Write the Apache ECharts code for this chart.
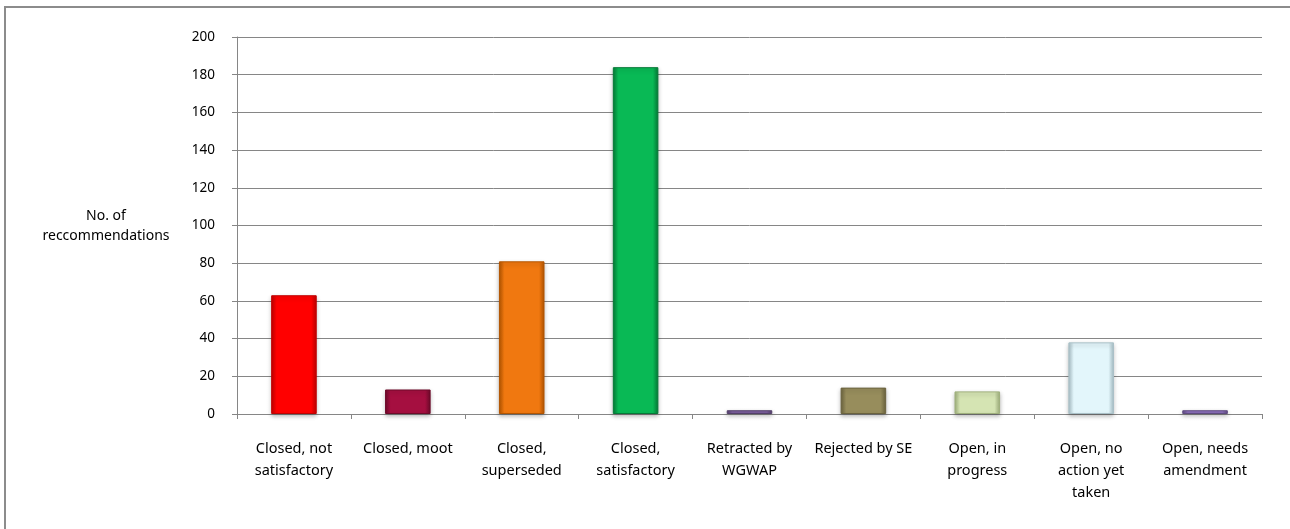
<!DOCTYPE html>
<html>
<head>
<meta charset="utf-8">
<script src="https://cdn.jsdelivr.net/npm/echarts@6/dist/echarts.min.js"></script>
<style>
html,body{margin:0;padding:0;background:#fff;}
#chart{width:1290px;height:529px;}
</style>
</head>
<body>
<div id="chart"></div>
<script>
// Data
var categories = [
  "Closed, not\nsatisfactory",
  "Closed, moot",
  "Closed,\nsuperseded",
  "Closed,\nsatisfactory",
  "Retracted by\nWGWAP",
  "Rejected by SE",
  "Open, in\nprogress",
  "Open, no\naction yet\ntaken",
  "Open, needs\namendment"
];
var values = [63, 13, 81, 184, 2, 14, 12, 38, 2];
var yTicks = { min: 0, max: 200, interval: 20 };
var yAxisTitle = "No. of\nreccommendations";

// Styles
var barColors = [
  ["#ff0000", "#c00000"],
  ["#a50f40", "#6e0a2a"],
  ["#f07810", "#b35500"],
  ["#09b955", "#057a37"],
  ["#7d5f9e", "#54406b"],
  ["#978d5c", "#6b633e"],
  ["#d5e4b3", "#9fb07c"],
  ["#e3f6fb", "#a9c0c7"],
  ["#8c6fbb", "#5f4b80"]
];

function grad(c) {
  return new echarts.graphic.LinearGradient(0, 0, 1, 0, [
    { offset: 0, color: c[1] },
    { offset: 0.12, color: c[0] },
    { offset: 0.88, color: c[0] },
    { offset: 1, color: c[1] }
  ]);
}

var chart = echarts.init(document.getElementById('chart'));
var font = '"Noto Sans", "Liberation Sans", sans-serif';

chart.setOption({
  animation: false,
  backgroundColor: '#ffffff',
  grid: { left: 237, right: 28, top: 37, bottom: 115, containLabel: false },
  graphic: [
    {
      type: 'rect',
      shape: { x: 5, y: 7, width: 1300, height: 540 },
      style: { fill: 'none', stroke: '#8c8c8c', lineWidth: 2 },
      silent: true
    },
    {
      type: 'text',
      x: 106,
      y: 206,
      style: {
        text: yAxisTitle,
        font: '14px ' + font,
        fill: '#000',
        align: 'center',
        verticalAlign: 'top',
        lineHeight: 20
      }
    }
  ],
  xAxis: {
    type: 'category',
    data: categories,
    boundaryGap: true,
    axisLine: { show: true, lineStyle: { color: '#868686', width: 1 } },
    axisTick: { show: true, length: 5, lineStyle: { color: '#868686' } },
    axisLabel: {
      interval: 0,
      margin: 24,
      color: '#000',
      fontSize: 14.5,
      fontFamily: font,
      lineHeight: 22,
      align: 'center'
    },
    splitLine: { show: false }
  },
  yAxis: {
    type: 'value',
    min: yTicks.min,
    max: yTicks.max,
    interval: yTicks.interval,
    axisLine: { show: true, lineStyle: { color: '#868686', width: 1 } },
    axisTick: { show: true, length: 5, lineStyle: { color: '#868686' } },
    axisLabel: {
      margin: 22,
      color: '#000',
      fontSize: 13.5,
      fontFamily: font
    },
    splitLine: { show: true, lineStyle: { color: '#868686', width: 1 } }
  },
  series: [{
    type: 'bar',
    barWidth: '40%',
    data: values.map(function (v, i) {
      return {
        value: v,
        itemStyle: {
          color: grad(barColors[i]),
          borderColor: barColors[i][1],
          borderWidth: 1,
          shadowColor: 'rgba(0,0,0,0.25)',
          shadowBlur: 4,
          shadowOffsetY: 2
        }
      };
    })
  }]
});
</script>
</body>
</html>
